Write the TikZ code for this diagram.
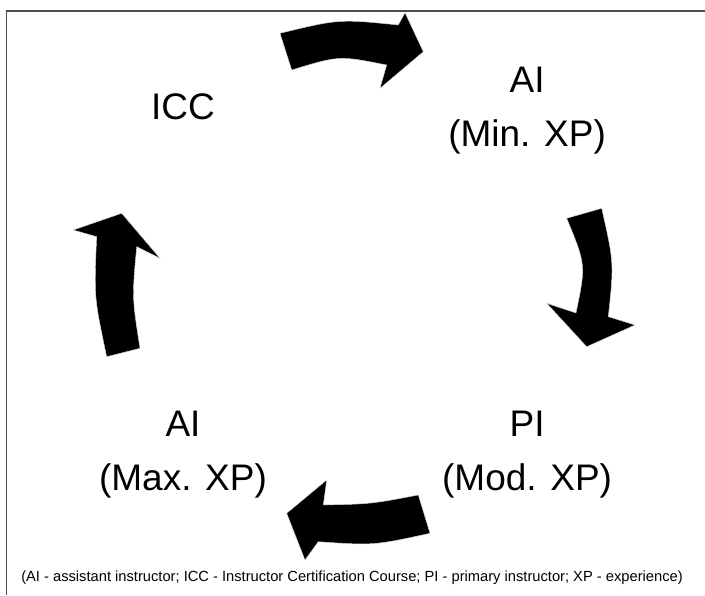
\documentclass[tikz,border=0pt]{standalone}
\usepackage{fontspec}
\setmainfont{Liberation Sans}

\begin{document}
\begin{tikzpicture}[
     x = 0.025cm,
     y = 0.025cm,
     stage/.style = {align = center, font = \fontsize{26.3}{38.4}\selectfont},
     blockarrow/.style = {fill = black, draw = black!15, line width = 0.3pt}
    ]

    \useasboundingbox (0,0) rectangle (705,595);
    \draw [line width = 1.2pt, black!70] (705,584) -- (6.5,584) -- (6.5,0);

    \node [stage] (ICC) at (183,488) {ICC};
    \node [stage] (AImax) at (183,140) {AI\\(Max. XP)};
    \node [right of = AImax, node distance = 8.6cm, stage] (PImod) {PI\\(Mod. XP)};
    \node [above of = PImod, node distance = 8.6cm, stage] (AImin) {AI\\(Min. XP)};

    \node [font = \fontsize{10.45}{12}\selectfont] (legend) at (352,17)
     {(AI - assistant instructor; ICC - Instructor Certification Course; PI - primary instructor; XP - experience)};

    % top arrow
    \path [blockarrow] (280,561.7) .. controls (339,576) .. (398.3,570) -- (405,582.3) -- (423.3,543.3)
     -- (380,506.7) -- (386.7,530) .. controls (339,539.5) .. (291.7,525) -- cycle;
    % right arrow
    \path [blockarrow] (601.7,386.7) .. controls (614,332) .. (608.3,278.3) -- (635,270) -- (586.7,248.3)
     -- (546.7,291.7) -- (576,282) .. controls (586,330) .. (566.7,376.7) -- cycle;
    % bottom arrow
    \path [blockarrow] (418.3,100) .. controls (371,91) .. (323.3,90) -- (326.7,115) -- (286.7,81.7)
     -- (305,35) -- (318.3,53.3) .. controls (374,49.5) .. (430,61.7) -- cycle;
    % left arrow
    \path [blockarrow] (106.7,238.3) .. controls (94,298) .. (96.7,358.3) -- (73.3,365) -- (121.7,381.7)
     -- (160,336.7) -- (136.7,348.3) .. controls (132,297.5) .. (140,246.7) -- cycle;

\end{tikzpicture}
\end{document}
